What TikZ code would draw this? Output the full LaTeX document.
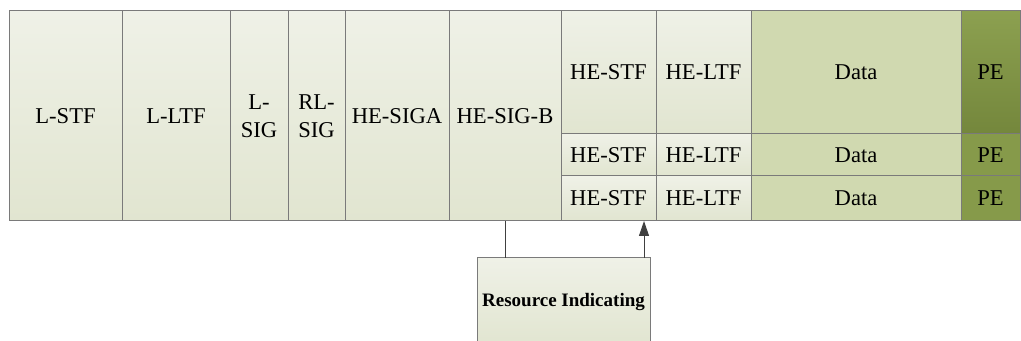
\documentclass[tikz,border=0pt]{standalone}
\usepackage{fontspec}
\setmainfont{Liberation Serif}
\usepackage{tikz}
\usetikzlibrary{calc,arrows.meta}

\definecolor{lineg}{HTML}{7A7A7A}
\definecolor{palet}{HTML}{EFF1E7}
\definecolor{paleb}{HTML}{E1E5D0}
\definecolor{datac}{HTML}{D0D9B0}
\definecolor{pet}{HTML}{8CA050}
\definecolor{peb}{HTML}{74873C}
\definecolor{pelow}{HTML}{869A4A}

\begin{document}
\begin{tikzpicture}[x=0.5pt,y=-0.5pt,
  cell/.style 2 args={draw=lineg, line width=0.5pt, inner sep=0pt, outer sep=0pt,
    minimum width=#1*0.5pt, minimum height=#2*0.5pt, align=center,
    font=\fontsize{11.3}{14}\selectfont},
  pale/.style={shading=axis, top color=palet, bottom color=paleb},
  datafill/.style={fill=datac},
  pefill/.style={fill=pelow},
  arrowline/.style={draw=black!75, line width=0.5pt}]
\useasboundingbox (0,0) rectangle (1021,341);

% preamble fields
\node[cell={113}{210}, pale] (lstf)   at (65.5,116)  {L-STF};
\node[cell={108}{210}, pale] (lltf)   at (176,116)   {L-LTF};
\node[cell={58}{210},  pale] (lsig)   at (259,116)   {L-\\SIG};
\node[cell={57}{210},  pale] (rlsig)  at (316.5,116) {RL-\\SIG};
\node[cell={104}{210}, pale] (hesiga) at (397,116)   {HE-SIGA};
\node[cell={112}{210}, pale] (hesigb) at (505,116)   {HE-SIG-B};

% per user rows
\foreach \r/\cy/\h in {1/72.5/123, 2/155/42, 3/198.5/45} {
  \node[cell={95}{\h}, pale]      (stf\r)  at (608.5,\cy) {HE-STF};
  \node[cell={95}{\h}, pale]      (ltf\r)  at (703.5,\cy) {HE-LTF};
  \node[cell={210}{\h}, datafill] (data\r) at (856,\cy)   {Data};
  \node[cell={59}{\h}, pefill]    (pe\r)   at (990.5,\cy) {PE};
}
\node[cell={59}{123}, shading=axis, top color=pet, bottom color=peb] (pe1) at (990.5,72.5) {PE};

% resource indication
\node[cell={173}{88}, pale, font=\fontsize{9.5}{11}\selectfont\bfseries] (res) at (563.5,302) {Resource Indicating};

\draw[arrowline] (hesigb.south) -- (hesigb.south |- res.north);
\draw[arrowline, -{Triangle[length=7.5pt,width=5pt]}] ([xshift=-3pt]res.north east) -- ([xshift=-3pt]res.north east |- stf3.south);

\end{tikzpicture}
\end{document}
